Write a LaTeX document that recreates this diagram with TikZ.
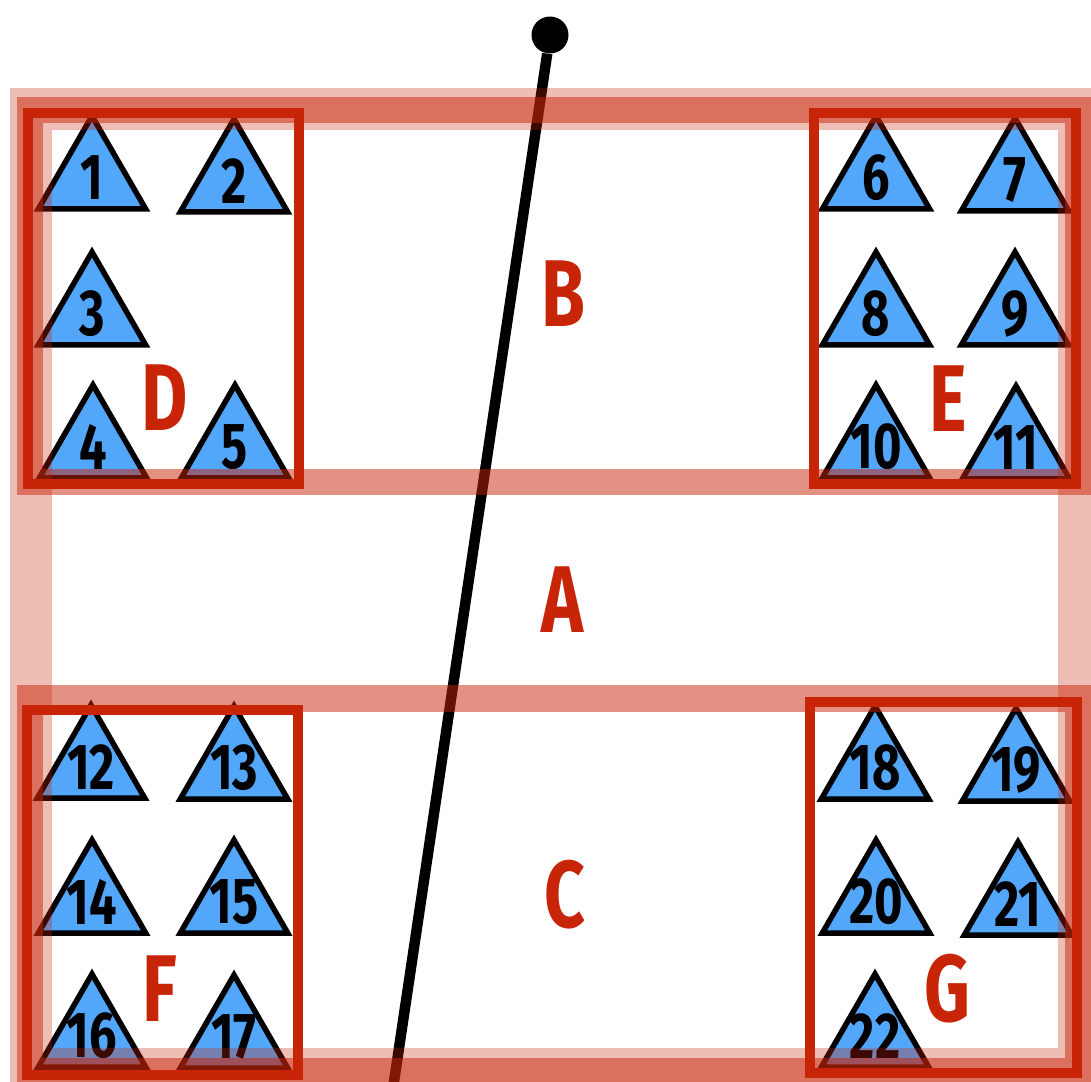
\documentclass[tikz,border=0pt]{standalone}
\usepackage{fontspec}
\usetikzlibrary{shapes.geometric}
\newfontfamily\figfont{Fira Sans}[FakeStretch=0.75]
\definecolor{boxred}{RGB}{200,36,8}
\definecolor{triblue}{RGB}{82,167,250}
\tikzset{
  tri/.style={regular polygon, regular polygon sides=3, draw=black, fill=triblue,
    line width=0.11cm, minimum size=2.48cm, inner sep=0pt,
    label={[font=\figfont\bfseries\fontsize{37}{37}\selectfont, inner sep=0pt]center:#1}},
  grp/.style={draw=boxred, line width=0.2cm},
  band/.style={draw=boxred, draw opacity=#1},
  lbl/.style={text=boxred, font=\figfont\bfseries\fontsize{54}{54}\selectfont},
}
\begin{document}
\begin{tikzpicture}[x=0.02cm, y=-0.02cm]
\useasboundingbox (0,0) rectangle (1091,1081);
\clip (0,0) rectangle (1091,1081);
% cut line
\node[circle, fill=black, minimum size=0.74cm, inner sep=0pt] (pin) at (550,35) {};
\coordinate (foot) at (392,1095);
\draw[line width=0.21cm] (pin) -- (foot);
% triangles
\foreach \n/\x/\y in {1/92/178, 2/234/181, 3/92/314, 4/93/447, 5/235/447,
    6/876/178, 7/1015/180, 8/876/314, 9/1015/314, 10/876/447, 11/1016/448,
    12/91/767, 13/234/768, 14/92/902, 15/234/902, 16/92/1036, 17/234/1037,
    18/875/768, 19/1016/770, 20/876/902, 21/1018/904, 22/875/1036}
  \node[tri=\n] (t\n) at (\x,\y) {};
% groups
\draw[grp] (28,113) rectangle (299,484);
\draw[grp] (814,113) rectangle (1076,484);
\draw[grp] (27,710) rectangle (298,1075);
\draw[grp] (810,702) rectangle (1077,1073);
% bands
\draw[band=0.3, line width=0.84cm] (31,109) rectangle (1079,1069);
\draw[band=0.5, line width=0.52cm] (30,110) rectangle (1078,482);
\draw[band=0.5, line width=0.54cm] (30,698) rectangle (1078,1071);
% labels
\node[lbl] (A) at (562,600) {A};
\node[lbl] (B) at (563,294) {B};
\node[lbl] (C) at (565,895) {C};
\node[lbl] (D) at (165,398) {D};
\node[lbl] (E) at (948,399) {E};
\node[lbl] (F) at (160,989) {F};
\node[lbl] (G) at (947,989) {G};
\end{tikzpicture}
\end{document}
